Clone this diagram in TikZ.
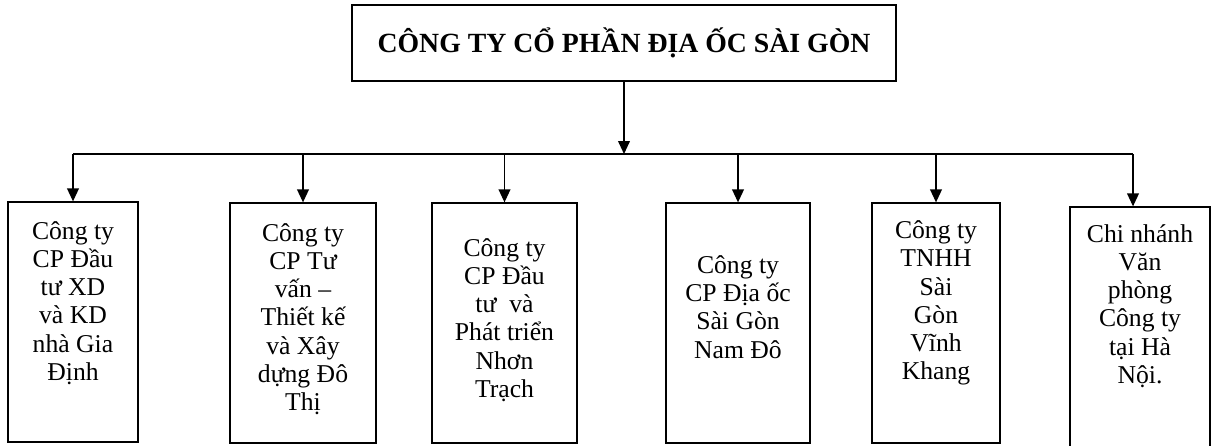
\documentclass[tikz,border=0pt]{standalone}
\usepackage{fontspec}
\setmainfont{Liberation Serif}
\usetikzlibrary{arrows.meta}
\begin{document}
\begin{tikzpicture}[x=0.03cm,y=-0.03cm,line width=1.1pt,
unit/.style={draw,inner sep=0pt,minimum height=7.2cm},
txt/.style={align=center,inner sep=0pt,font=\fontsize{21.9}{24.1}\selectfont},
drop/.style={-{Triangle[width=10pt,length=11pt]}}]
\useasboundingbox (0,0) rectangle (1211,445);
\node[draw,inner sep=0pt,minimum width=16.32cm,minimum height=2.28cm,font=\bfseries\fontsize{23.7}{28}\selectfont] (top) at (624,43) {CÔNG TY CỔ PHẦN ĐỊA ỐC SÀI GÒN};
\node[unit,minimum width=3.9cm] (b1) at (73,322) {};
\node[unit,minimum width=4.38cm] (b2) at (303,323) {};
\node[unit,minimum width=4.35cm] (b3) at (504.5,323) {};
\node[unit,minimum width=4.32cm] (b4) at (738,323) {};
\node[unit,minimum width=3.84cm] (b5) at (936,323) {};
\node[unit,minimum width=4.2cm,minimum height=7.26cm] (b6) at (1140,328) {};
\node[txt] (t1) at (73,303) {Công ty\\CP Đầu\\tư XD\\và KD\\nhà Gia\\Định};
\node[txt] (t2) at (303,319) {Công ty\\CP Tư\\vấn --\\Thiết kế\\và Xây\\dựng Đô\\Thị};
\node[txt] (t3) at (504.5,320) {Công ty\\CP Đầu\\tư~~và\\Phát triển\\Nhơn\\Trạch};
\node[txt] (t4) at (738,307) {Công ty\\CP Địa ốc\\Sài Gòn\\Nam Đô};
\node[txt] (t5) at (936,303) {Công ty\\TNHH\\Sài\\Gòn\\Vĩnh\\Khang};
\node[txt] (t6) at (1140,306) {Chi nhánh\\Văn\\phòng\\Công ty\\tại Hà\\Nội.};
\coordinate (busL) at (73,154);
\coordinate (busR) at (1133,154);
\draw[drop] (top.south) -- (top.south |- busL);
\draw (busL) -- (busR);
\foreach \b in {b1,b2,b3,b4,b5}
  \draw[drop] (\b.north |- busL) -- (\b.north);
\draw[drop] (busR) -- (busR |- b6.north);
\end{tikzpicture}
\end{document}
